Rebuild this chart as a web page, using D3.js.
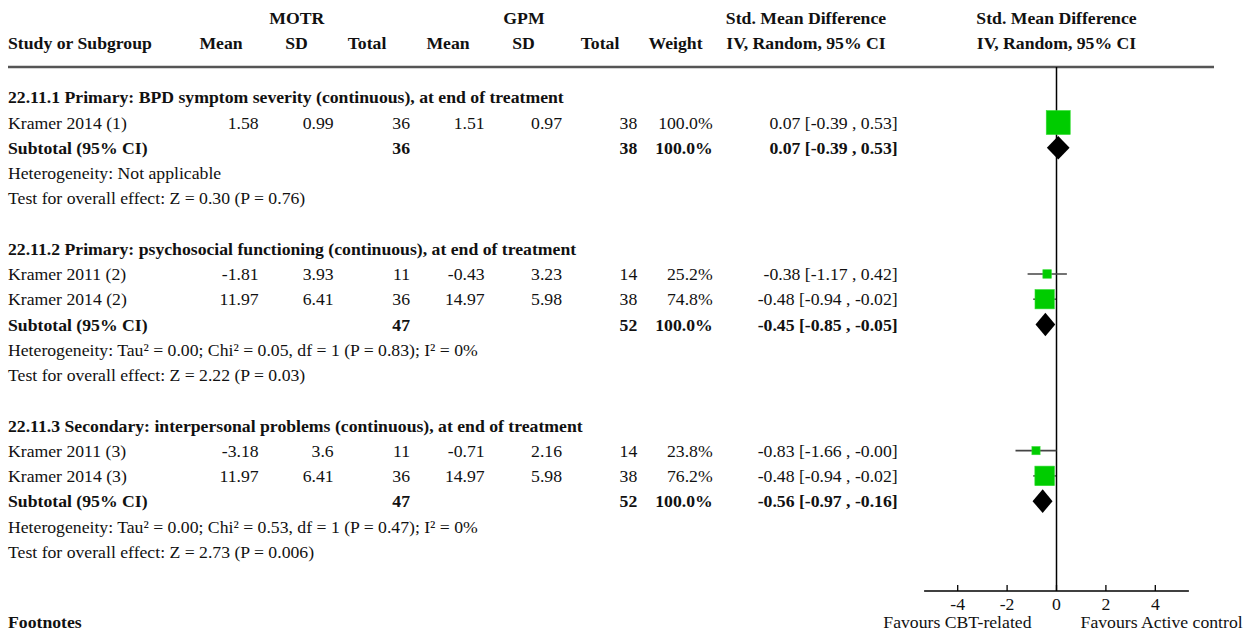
<!DOCTYPE html>
<html>
<head>
<meta charset="utf-8">
<script src="https://cdn.jsdelivr.net/npm/d3@7"></script>
<style>
  html, body { margin: 0; padding: 0; background: #fff; }
  svg { display: block; }
  text { font-family: "Liberation Serif", "Times New Roman", serif; font-size: 17.7px; fill: #111; }
  .b { font-weight: bold; }
</style>
</head>
<body>
<svg id="chart" width="1250" height="632"></svg>
<script>
// ---- data ----
const groupTitles = [
  "22.11.1 Primary: BPD symptom severity (continuous), at end of treatment",
  "22.11.2 Primary: psychosocial functioning (continuous), at end of treatment",
  "22.11.3 Secondary: interpersonal problems (continuous), at end of treatment"
];
const studyGroup = [0, 1, 1, 2, 2];
const studyLabel = ["Kramer 2014 (1)", "Kramer 2011 (2)", "Kramer 2014 (2)", "Kramer 2011 (3)", "Kramer 2014 (3)"];
const motrMean = [1.58, -1.81, 11.97, -3.18, 11.97];
const motrSD = [0.99, 3.93, 6.41, 3.6, 6.41];
const motrN = [36, 11, 36, 11, 36];
const gpmMean = [1.51, -0.43, 14.97, -0.71, 14.97];
const gpmSD = [0.97, 3.23, 5.98, 2.16, 5.98];
const gpmN = [38, 14, 38, 14, 38];
const weight = [100.0, 25.2, 74.8, 23.8, 76.2];
const smd = [0.07, -0.38, -0.48, -0.83, -0.48];
const ciLow = [-0.39, -1.17, -0.94, -1.66, -0.94];
const ciHigh = [0.53, 0.42, -0.02, -0.00, -0.02];

const subMotrN = [36, 47, 47];
const subGpmN = [38, 52, 52];
const subWeight = [100.0, 100.0, 100.0];
const subSmd = [0.07, -0.45, -0.56];
const subLow = [-0.39, -0.85, -0.97];
const subHigh = [0.53, -0.05, -0.16];
const heterogeneity = [
  "Heterogeneity: Not applicable",
  "Heterogeneity: Tau² = 0.00; Chi² = 0.05, df = 1 (P = 0.83); I² = 0%",
  "Heterogeneity: Tau² = 0.00; Chi² = 0.53, df = 1 (P = 0.47); I² = 0%"
];
const overallEffect = [
  "Test for overall effect: Z = 0.30 (P = 0.76)",
  "Test for overall effect: Z = 2.22 (P = 0.03)",
  "Test for overall effect: Z = 2.73 (P = 0.006)"
];
const axisTicks = [-4, -2, 0, 2, 4];
const favourLeft = "Favours CBT-related";
const favourRight = "Favours Active control";

// ---- helpers ----
const f2 = v => (v < 0 || Object.is(v, -0)) ? "-" + Math.abs(v).toFixed(2) : v.toFixed(2);
const ciText = (m, lo, hi) => `${f2(m)} [${f2(lo)} , ${f2(hi)}]`;
const pct = w => w.toFixed(1) + "%";

const svg = d3.select("#chart");

// column anchors
const col = {
  label: 8,
  motrMean: 258.6, motrSD: 333.7, motrN: 410,
  gpmMean: 484.7, gpmSD: 562, gpmN: 637.3,
  weight: 712.7, ci: 897.7
};

// row layout
const rowY = d3.scaleLinear().domain([0, 1]).range([97.3, 97.3 + 25.24]);
const rows = [];
let r = 0;
groupTitles.forEach((title, g) => {
  rows.push({ type: "title", g, i: r++ });
  studyLabel.forEach((s, k) => { if (studyGroup[k] === g) rows.push({ type: "study", k, i: r++ }); });
  rows.push({ type: "subtotal", g, i: r++ });
  rows.push({ type: "het", g, i: r++ });
  rows.push({ type: "test", g, i: r++ });
  r++;
});

// forest scale
const x = d3.scaleLinear().domain([-4, 4]).range([957.7, 1155.3]);
const axisY = 591;
const boxSize = d3.scalePow().exponent(0.75).domain([0, 100]).range([0, 24]);

// ---- headers ----
const txt = (sel, xx, yy, s, anchor, bold) =>
  sel.append("text").attr("x", xx).attr("y", yy).attr("dy", "0.35em")
    .attr("text-anchor", anchor).attr("class", bold ? "b" : null).text(s);

const head = svg.append("g");
txt(head, 296.8, 18.3, "MOTR", "middle", true);
txt(head, 524, 18.3, "GPM", "middle", true);
txt(head, 806, 18.3, "Std. Mean Difference", "middle", true);
txt(head, x(0), 18.3, "Std. Mean Difference", "middle", true);
txt(head, col.label, 42.7, "Study or Subgroup", "start", true);
txt(head, 221, 42.7, "Mean", "middle", true);
txt(head, 296.5, 42.7, "SD", "middle", true);
txt(head, 367, 42.7, "Total", "middle", true);
txt(head, 448, 42.7, "Mean", "middle", true);
txt(head, 523.5, 42.7, "SD", "middle", true);
txt(head, 600, 42.7, "Total", "middle", true);
txt(head, 675.5, 42.7, "Weight", "middle", true);
txt(head, 806, 42.7, "IV, Random, 95% CI", "middle", true);
txt(head, x(0), 42.7, "IV, Random, 95% CI", "middle", true);

svg.append("line").attr("x1", 8).attr("x2", 1214).attr("y1", 67).attr("y2", 67)
  .attr("stroke", "#555").attr("stroke-width", 2.5);

// zero line
svg.append("line").attr("x1", x(0)).attr("x2", x(0)).attr("y1", 67).attr("y2", axisY)
  .attr("stroke", "#000").attr("stroke-width", 1.5);

// ---- table rows and marks ----
const body = svg.append("g");
const marks = svg.append("g");
rows.forEach(row => {
  const y = rowY(row.i);
  if (row.type === "title") {
    txt(body, col.label, y, groupTitles[row.g], "start", true);
  } else if (row.type === "study") {
    const k = row.k;
    txt(body, col.label, y, studyLabel[k], "start", false);
    txt(body, col.motrMean, y, String(motrMean[k]), "end", false);
    txt(body, col.motrSD, y, String(motrSD[k]), "end", false);
    txt(body, col.motrN, y, String(motrN[k]), "end", false);
    txt(body, col.gpmMean, y, String(gpmMean[k]), "end", false);
    txt(body, col.gpmSD, y, String(gpmSD[k]), "end", false);
    txt(body, col.gpmN, y, String(gpmN[k]), "end", false);
    txt(body, col.weight, y, pct(weight[k]), "end", false);
    txt(body, col.ci, y, ciText(smd[k], ciLow[k], ciHigh[k]), "end", false);
    marks.append("line").attr("x1", x(ciLow[k])).attr("x2", x(ciHigh[k]))
      .attr("y1", y).attr("y2", y).attr("stroke", "#444").attr("stroke-width", 1.6);
    const s = boxSize(weight[k]);
    marks.append("rect").attr("x", x(smd[k]) - s / 2).attr("y", y - s / 2)
      .attr("width", s).attr("height", s).attr("fill", "#00cc00")
      .attr("stroke", "#33dd33").attr("stroke-width", 0.6);
  } else if (row.type === "subtotal") {
    const g = row.g;
    txt(body, col.label, y, "Subtotal (95% CI)", "start", true);
    txt(body, col.motrN, y, String(subMotrN[g]), "end", true);
    txt(body, col.gpmN, y, String(subGpmN[g]), "end", true);
    txt(body, col.weight, y, pct(subWeight[g]), "end", true);
    txt(body, col.ci, y, ciText(subSmd[g], subLow[g], subHigh[g]), "end", true);
    const h = 11.8;
    marks.append("path")
      .attr("d", `M${x(subLow[g])},${y}L${x(subSmd[g])},${y - h}L${x(subHigh[g])},${y}L${x(subSmd[g])},${y + h}Z`)
      .attr("fill", "#000");
  } else if (row.type === "het") {
    txt(body, col.label, y, heterogeneity[row.g], "start", false);
  } else if (row.type === "test") {
    txt(body, col.label, y, overallEffect[row.g], "start", false);
  }
});

txt(body, col.label, 622, "Footnotes", "start", true);

// ---- axis ----
const axisG = svg.append("g").attr("transform", `translate(0,${axisY})`);
axisG.append("line").attr("x1", x(-5.36)).attr("x2", x(5.36)).attr("y1", 0).attr("y2", 0)
  .attr("stroke", "#000").attr("stroke-width", 1.3);
axisG.selectAll("line.tick").data(axisTicks).join("line").attr("class", "tick")
  .attr("x1", d => x(d)).attr("x2", d => x(d)).attr("y1", -6).attr("y2", 0)
  .attr("stroke", "#000").attr("stroke-width", 1.3);
axisG.selectAll("text.tl").data(axisTicks).join("text").attr("class", "tl")
  .attr("x", d => x(d)).attr("y", 13).attr("dy", "0.35em").attr("text-anchor", "middle")
  .text(d => d);
txt(svg, 883.3, 621.5, favourLeft, "start", false);
txt(svg, 1242.7, 621.5, favourRight, "end", false);
</script>
</body>
</html>
